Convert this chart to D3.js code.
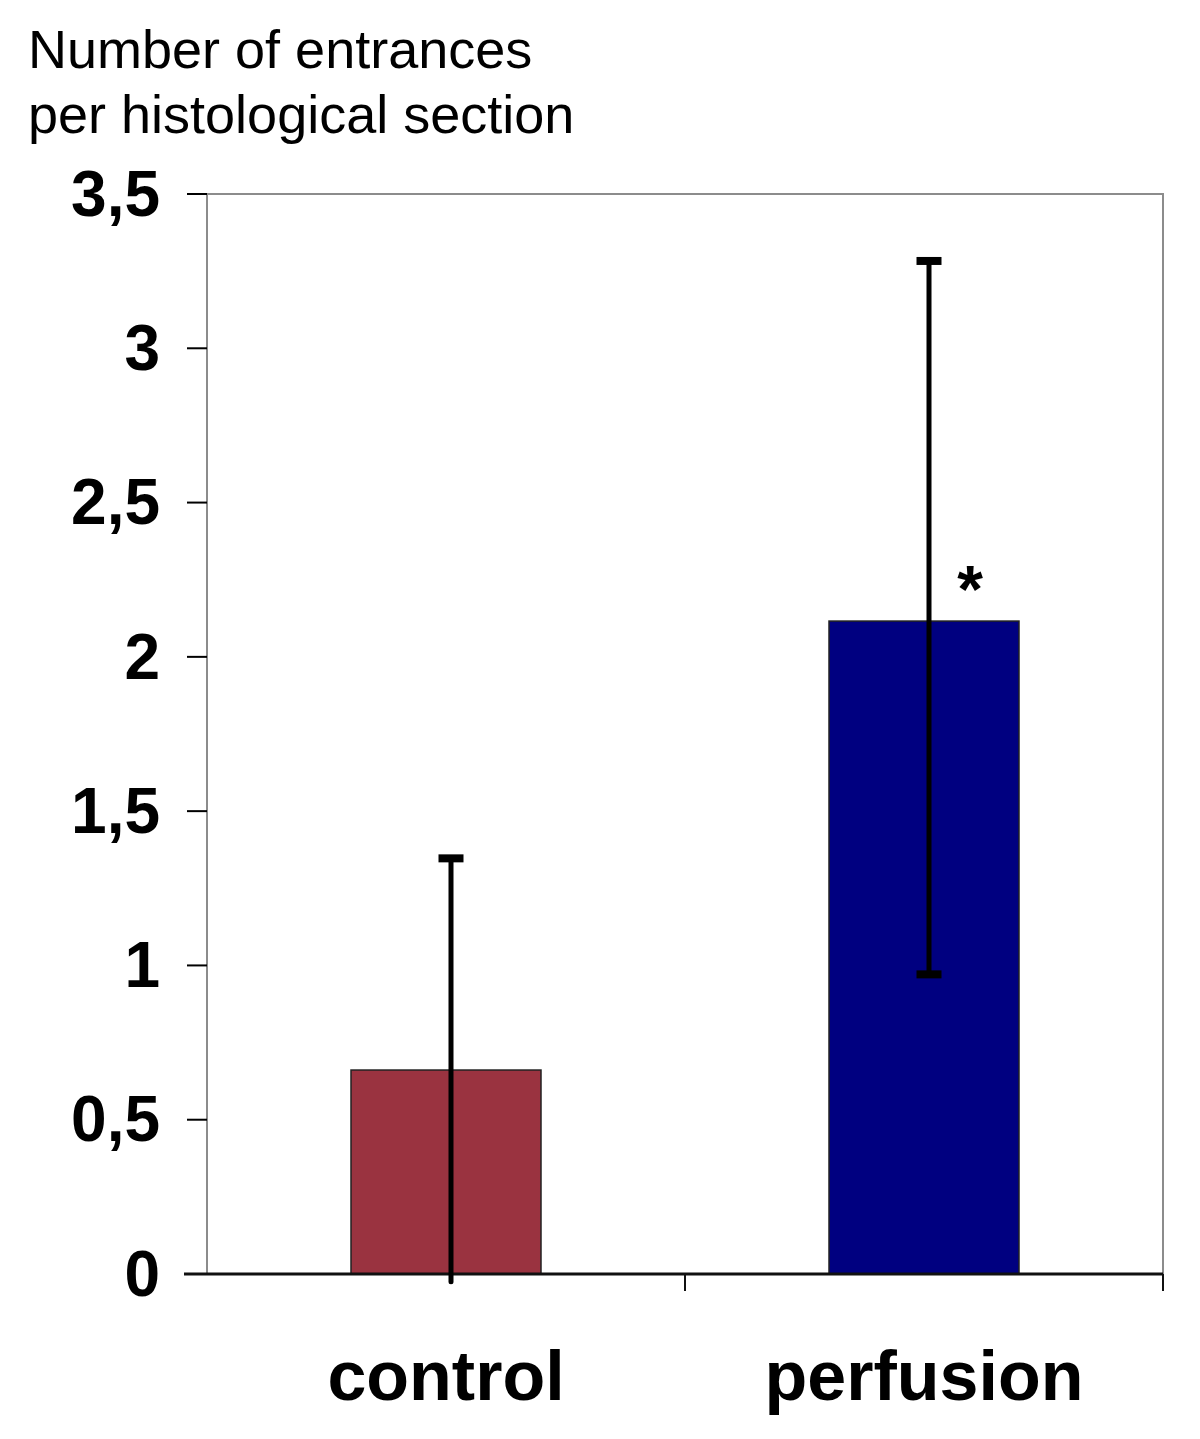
<!DOCTYPE html>
<html><head><meta charset="utf-8">
<script src="https://cdn.jsdelivr.net/npm/d3@7"></script>
<style>body{margin:0;background:#fff}svg{display:block}</style>
</head><body>
<script>
const categories = ["control", "perfusion"];
const means = [0.661, 2.116];
const errorsUp = [0.686, 1.167];
const errorsDown = [0.686, 1.145];
const barColors = ["#9a3340", "#000080"];
const yTicks = [0, 0.5, 1, 1.5, 2, 2.5, 3, 3.5];
const yTitle = ["Number of entrances", "per histological section"];
const significance = ["", "*"];

const W = 1200, H = 1439;
const svg = d3.select("body").append("svg").attr("width", W).attr("height", H);
const pLeft = 207, pRight = 1163, pTop = 194, pBottom = 1274;

const x = d3.scaleBand().domain(categories).range([pLeft, pRight]).paddingInner(0).paddingOuter(0);
const y = d3.scaleLinear().domain([0, 3.5]).range([pBottom, pTop]);
const font = "'Liberation Sans', Arial, sans-serif";

// plot frame (top & right gray)
svg.append("path").attr("d", `M${pLeft},${pTop}H${pRight}V${pBottom}`)
  .attr("fill", "none").attr("stroke", "#8c8c8c").attr("stroke-width", 2);
svg.append("line").attr("x1", pLeft).attr("x2", pLeft).attr("y1", pTop).attr("y2", pBottom)
  .attr("stroke", "#8c8c8c").attr("stroke-width", 2);

// y ticks
const yAxis = svg.append("g");
yAxis.selectAll("line").data(yTicks).join("line")
  .attr("x1", 187).attr("x2", pLeft).attr("y1", d => y(d)).attr("y2", d => y(d))
  .attr("stroke", "#000").attr("stroke-width", 2);
yAxis.selectAll("text").data(yTicks).join("text")
  .attr("x", 160).attr("y", d => y(d)).attr("dy", "0.34em")
  .attr("text-anchor", "end").attr("font-family", font).attr("font-weight", "bold")
  .attr("font-size", 64).text(d => String(d).replace(".", ","));

// bars
const bw = 190;
svg.selectAll("rect.bar").data(categories).join("rect").attr("class", "bar")
  .attr("x", d => x(d) + x.bandwidth() / 2 - bw / 2)
  .attr("y", (d, i) => y(means[i]))
  .attr("width", bw)
  .attr("height", (d, i) => pBottom - y(means[i]))
  .attr("fill", (d, i) => barColors[i])
  .attr("stroke", "#222").attr("stroke-width", 1.5);

// x axis
svg.append("line").attr("x1", 184).attr("x2", pRight).attr("y1", pBottom).attr("y2", pBottom)
  .attr("stroke", "#111").attr("stroke-width", 3);
const xTickPos = [x.range()[0] + x.bandwidth(), pRight];
svg.selectAll("line.xt").data(xTickPos).join("line").attr("class", "xt")
  .attr("x1", d => d).attr("x2", d => d).attr("y1", pBottom).attr("y2", 1291)
  .attr("stroke", "#111").attr("stroke-width", 2);

// error bars
const ex = d => x(d) + x.bandwidth() / 2 + 5;
const eb = svg.append("g");
categories.forEach((c, i) => {
  const hi = means[i] + errorsUp[i], lo = means[i] - errorsDown[i];
  eb.append("line").attr("x1", ex(c)).attr("x2", ex(c)).attr("y1", y(hi)).attr("y2", y(lo))
    .attr("stroke", "#000").attr("stroke-width", 5).attr("stroke-linecap", "round");
  eb.append("line").attr("x1", ex(c) - 12.5).attr("x2", ex(c) + 12.5).attr("y1", y(hi)).attr("y2", y(hi))
    .attr("stroke", "#000").attr("stroke-width", 8);
  if (lo > 0) {
    eb.append("line").attr("x1", ex(c) - 12.5).attr("x2", ex(c) + 12.5).attr("y1", y(lo)).attr("y2", y(lo))
      .attr("stroke", "#000").attr("stroke-width", 8);
  }
  if (significance[i]) {
    svg.append("text").attr("x", ex(c) + 41).attr("y", y(means[i]) - 9)
      .attr("text-anchor", "middle").attr("font-family", font).attr("font-weight", "bold")
      .attr("font-size", 66).text(significance[i]);
  }
});

// x labels
svg.selectAll("text.xl").data(categories).join("text").attr("class", "xl")
  .attr("x", d => x(d) + x.bandwidth() / 2).attr("y", 1400)
  .attr("text-anchor", "middle").attr("font-family", font).attr("font-weight", "bold")
  .attr("font-size", 70).text(d => d);

// y title
svg.selectAll("text.yt").data(yTitle).join("text").attr("class", "yt")
  .attr("x", 28).attr("y", (d, i) => 68 + i * 65)
  .attr("font-family", font).attr("font-size", 54).text(d => d);
</script>
</body></html>
